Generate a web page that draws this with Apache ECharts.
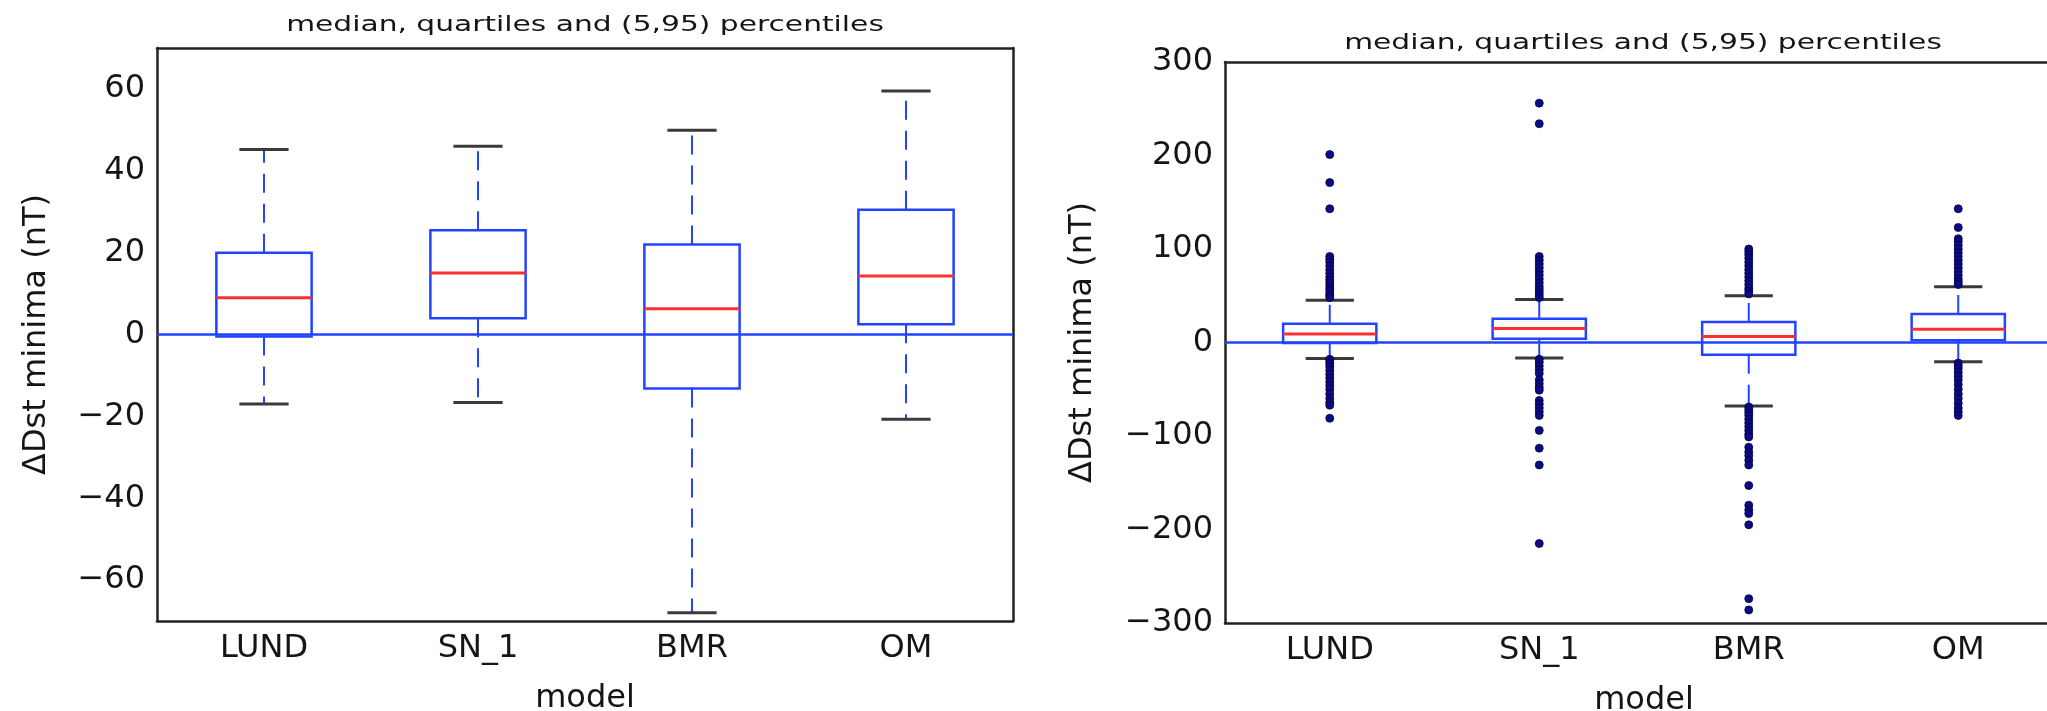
<!DOCTYPE html>
<html><head><meta charset="utf-8">
<script src="https://cdn.jsdelivr.net/npm/echarts@6/dist/echarts.min.js"></script>
<style>html,body{margin:0;padding:0;background:#fff}#c{width:2047px;height:711px}</style>
</head><body><div id="c"></div>
<script>
const categories = ['LUND', 'SN_1', 'BMR', 'OM'];
// [5th pct, 1st quartile, median, 3rd quartile, 95th pct]
const lundStats = [-17, -0.5, 9, 20, 45.2];
const sn1Stats  = [-16.6, 4, 15, 25.5, 46];
const bmrStats  = [-68, -13.2, 6.3, 22, 49.9];
const omStats   = [-20.7, 2.5, 14.3, 30.5, 59.5];
// points outside the (5,95) percentiles
const lundFliers = [201, 171, 143, 92, 89, 86, 82, 78, 74, 70, 67, 64, 61, 58, 55, 52, 50, 48,
  -18, -20, -23, -26, -30, -34, -38, -42, -46, -50, -55, -60, -64, -67, -81];
const sn1Fliers = [256, 234, 92, 88, 84, 80, 76, 72, 68, 64, 60, 57, 54, 51, 48,
  -18, -21, -25, -29, -33, -40, -44, -48, -51, -62, -66, -70, -74, -78, -94, -113, -131, -215];
const bmrFliers = [100, 97, 94, 90, 86, 82, 78, 74, 70, 66, 62, 58, 55, 52,
  -69, -72, -75, -78, -82, -86, -90, -94, -98, -101, -112, -117, -121, -126, -131, -153, -174, -179, -183, -195, -274, -286];
const omFliers = [143, 123, 111, 108, 104, 100, 96, 92, 88, 84, 80, 76, 72, 68, 65, 62,
  -22, -25, -28, -32, -36, -40, -45, -50, -55, -60, -65, -70, -74, -78];
const leftYTicks = [-60, -40, -20, 0, 20, 40, 60];
const rightYTicks = [-300, -200, -100, 0, 100, 200, 300];
const titleText = 'median, quartiles and (5,95) percentiles';
const xName = 'model';
const yName = '\u0394Dst minima (nT)';

const allStats = [lundStats, sn1Stats, bmrStats, omStats];
const allFliers = [lundFliers, sn1Fliers, bmrFliers, omFliers];
const boxData = allStats.map((s, i) => [i].concat(s));
const flierData = [];
allFliers.forEach((arr, i) => arr.forEach(v => flierData.push([i, v])));

const FONT = 'DejaVu Sans';
const BLUE = '#2443ff';
const RED = '#ff3030';
const AX = '#222';
const TXT = '#151515';

function renderBox(params, api) {
  const i = api.value(0);
  const band = api.size([1, 0])[0];
  const bw = band * 0.445, cw = band * 0.23;
  const x = api.coord([i, 0])[0];
  const y = k => api.coord([i, api.value(k)])[1];
  const p5 = y(1), q1 = y(2), md = y(3), q3 = y(4), p95 = y(5);
  const dash = {stroke: BLUE, lineWidth: 2, lineDash: [19, 11]};
  const cap = {stroke: '#3a3a3a', lineWidth: 3};
  return {type: 'group', children: [
    {type: 'line', shape: {x1: x, y1: q3, x2: x, y2: p95}, style: dash},
    {type: 'line', shape: {x1: x, y1: q1, x2: x, y2: p5}, style: dash},
    {type: 'line', shape: {x1: x - cw / 2, y1: p95, x2: x + cw / 2, y2: p95}, style: cap},
    {type: 'line', shape: {x1: x - cw / 2, y1: p5, x2: x + cw / 2, y2: p5}, style: cap},
    {type: 'rect', shape: {x: x - bw / 2, y: q3, width: bw, height: q1 - q3}, style: {fill: 'none', stroke: BLUE, lineWidth: 2.5}},
    {type: 'line', shape: {x1: x - bw / 2, y1: md, x2: x + bw / 2, y2: md}, style: {stroke: RED, lineWidth: 3}}
  ]};
}

const minusFmt = v => String(v).replace('-', '\u2212');
const zeroLine = {silent: true, symbol: 'none', label: {show: false},
  lineStyle: {color: BLUE, width: 2.5, type: 'solid'}, data: [{yAxis: 0}]};

function xAxes(g) {
  return [
    {gridIndex: g, type: 'category', data: categories, position: 'bottom', boundaryGap: true,
     axisLine: {onZero: false, lineStyle: {color: AX, width: 2.5}},
     axisTick: {inside: true, alignWithLabel: true, length: 8, lineStyle: {color: AX, width: 2}},
     axisLabel: {fontFamily: FONT, fontSize: 32, color: TXT, margin: 12},
     name: xName, nameLocation: 'middle', nameGap: 62,
     nameTextStyle: {fontFamily: FONT, fontSize: 32, color: TXT}},
    {gridIndex: g, type: 'category', data: categories, position: 'top', boundaryGap: true,
     axisLine: {onZero: false, lineStyle: {color: AX, width: 2.5}},
     axisTick: {inside: true, alignWithLabel: true, length: 8, lineStyle: {color: AX, width: 2}},
     axisLabel: {show: false}}
  ];
}
function yAxes(g, min, max, ticks, withRight, gap) {
  const a = [{gridIndex: g, type: 'value', min: min, max: max, position: 'left',
     splitLine: {show: false},
     axisLine: {show: true, onZero: false, lineStyle: {color: AX, width: 2.5}},
     axisTick: {inside: true, length: 8, customValues: ticks, lineStyle: {color: AX, width: 2}},
     axisLabel: {customValues: ticks, fontFamily: FONT, fontSize: 32, color: TXT, margin: 12, formatter: minusFmt},
     name: yName, nameLocation: 'middle', nameRotate: 90, nameGap: gap,
     nameTextStyle: {fontFamily: FONT, fontSize: 32, color: TXT}}];
  if (withRight) a.push({gridIndex: g, type: 'value', min: min, max: max, position: 'right',
     splitLine: {show: false},
     axisLine: {show: true, onZero: false, lineStyle: {color: AX, width: 2.5}},
     axisTick: {inside: true, length: 8, customValues: ticks, lineStyle: {color: AX, width: 2}},
     axisLabel: {show: false}});
  return a;
}

const chart = echarts.init(document.getElementById('c'), null, {renderer: 'canvas'});
chart.setOption({
  backgroundColor: '#fff',
  animation: false,
  graphic: [
    {type: 'text', x: 585, y: 25, scaleX: 1.35, style: {text: titleText, font: '22px "DejaVu Sans"', fill: TXT, textAlign: 'center', textVerticalAlign: 'middle'}},
    {type: 'text', x: 1643, y: 43, scaleX: 1.35, style: {text: titleText, font: '22px "DejaVu Sans"', fill: TXT, textAlign: 'center', textVerticalAlign: 'middle'}}
  ],
  grid: [
    {left: 157, top: 48, width: 856, height: 573, containLabel: false, outerBoundsMode: 'none'},
    {left: 1225, top: 62, width: 838, height: 561, containLabel: false, outerBoundsMode: 'none'}
  ],
  xAxis: xAxes(0).concat(xAxes(1)),
  yAxis: yAxes(0, -70, 70, leftYTicks, true, 104).concat(yAxes(1, -300, 300, rightYTicks, false, 126)),
  series: [
    {type: 'custom', xAxisIndex: 0, yAxisIndex: 0, data: boxData, renderItem: renderBox,
     encode: {x: 0, y: [1, 2, 3, 4, 5]}, markLine: zeroLine, z: 2},
    {type: 'custom', xAxisIndex: 2, yAxisIndex: 2, data: boxData, renderItem: renderBox,
     encode: {x: 0, y: [1, 2, 3, 4, 5]}, markLine: zeroLine, z: 2},
    {type: 'scatter', xAxisIndex: 2, yAxisIndex: 2, data: flierData, symbol: 'circle', symbolSize: 8,
     itemStyle: {color: '#0b0b86', borderColor: '#000040', borderWidth: 0.8, opacity: 1}, z: 4}
  ]
});
</script>
</body></html>
